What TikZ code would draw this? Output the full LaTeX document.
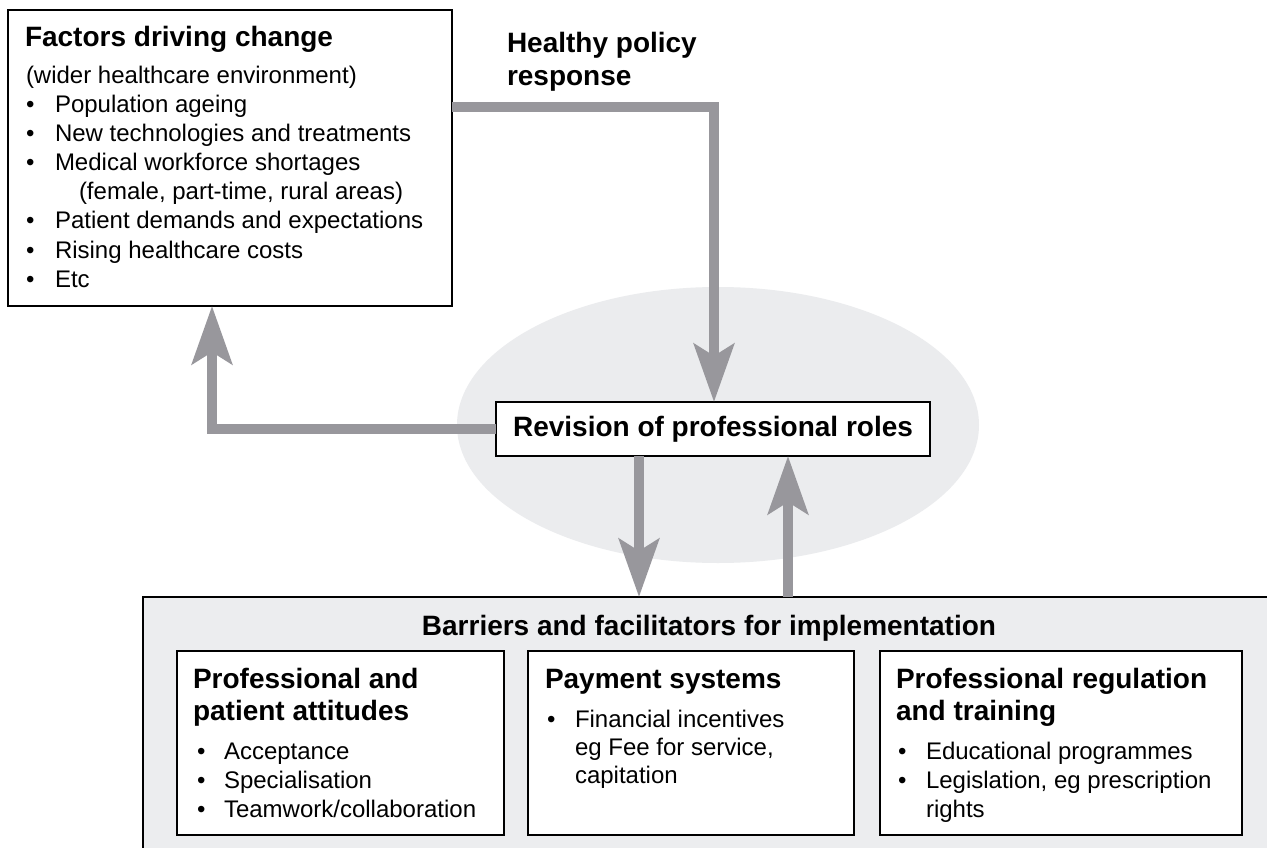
\documentclass[tikz,border=0pt]{standalone}
\usepackage{fontspec}
\setmainfont{Liberation Sans}
\usetikzlibrary{arrows.meta}

\definecolor{conngray}{RGB}{152,151,156}
\definecolor{halo}{RGB}{235,236,238}
\definecolor{panel}{RGB}{236,237,239}

\tikzset{
  box/.style={draw=black, line width=2.5pt, fill=white, inner sep=0pt, outer sep=0pt, anchor=north west},
  txt/.style={anchor=base west, inner sep=0pt, outer sep=0pt, font=\fontsize{24}{29}\selectfont},
  ttl/.style={anchor=base west, inner sep=0pt, outer sep=0pt, font=\fontsize{28}{32}\selectfont\bfseries},
  conn/.style={draw=conngray, line width=10pt},
  tip/.style={-{Stealth[length=58pt, width=40pt, inset=12pt, fill=conngray]}},
}

\begin{document}
\begin{tikzpicture}[x=1pt, y=-1pt]
\clip (0,0) rectangle (1267,848);
\fill[white] (0,0) rectangle (1267,848);

% grey halo behind the central box
\fill[halo] (718,425) ellipse [x radius=261, y radius=138];

% boxes
\node[box, minimum width=444pt, minimum height=296pt] (fdc) at (8,10) {};
\node[box, minimum width=434pt, minimum height=54pt, font=\fontsize{28}{32}\selectfont\bfseries] (rev) at (496,402) {Revision of professional roles};
\node[box, fill=panel, minimum width=1160pt, minimum height=290pt] (bar) at (143,597) {};
\node[box, minimum width=327pt, minimum height=184pt] (b1) at (177,651) {};
\node[box, minimum width=326pt, minimum height=184pt] (b2) at (528,651) {};
\node[box, minimum width=362pt, minimum height=184pt] (b3) at (880,651) {};

% factors driving change
\node[ttl] (fdcT) at (25,47) {Factors driving change};
\node[txt] (fdc0) at (26,84) {(wider healthcare environment)};
\foreach \y/\s [count=\i] in {113/Population ageing, 142/New technologies and treatments, 171/Medical workforce shortages, 229/Patient demands and expectations, 258/Rising healthcare costs, 287/Etc}{
  \node[txt] (fdcb\i) at (26,\y) {•};
  \node[txt] (fdcs\i) at (55,\y) {\s};
}
\node[txt] (fdcsub) at (79,200) {(female, part-time, rural areas)};

% policy label
\node[ttl] (hpr1) at (507,53) {Healthy policy};
\node[ttl] (hpr2) at (507,86) {response};

% barriers panel
\node[ttl, anchor=base] (barT) at (709,635) {Barriers and facilitators for implementation};

\node[ttl] (b1t1) at (193,688) {Professional and};
\node[ttl] (b1t2) at (193,720) {patient attitudes};
\foreach \y/\s [count=\i] in {759/Acceptance, 788/Specialisation, 817/Teamwork\slash collaboration}{
  \node[txt] (b1b\i) at (197,\y) {•};
  \node[txt] (b1s\i) at (224,\y) {\s};
}

\node[ttl] (b2t1) at (545,688) {Payment systems};
\node[txt] (b2b1) at (547,727) {•};
\node[txt] (b2s1) at (575,727) {Financial incentives};
\node[txt] (b2s2) at (575,755) {eg Fee for service,};
\node[txt] (b2s3) at (575,783) {capitation};

\node[ttl] (b3t1) at (896,688) {Professional regulation};
\node[ttl] (b3t2) at (896,720) {and training};
\node[txt] (b3b1) at (898,759) {•};
\node[txt] (b3s1) at (926,759) {Educational programmes};
\node[txt] (b3b2) at (898,788) {•};
\node[txt] (b3s2) at (926,788) {Legislation, eg prescription};
\node[txt] (b3s3) at (926,817) {rights};

% connectors
\coordinate (hp) at (714,107);
\coordinate (lb) at (212,428);
\coordinate (dn) at (639,0);
\coordinate (up) at (788,0);
\draw[conn, tip] (fdc.east |- hp) -- (hp) -- (rev.north -| hp);
\draw[conn, tip] (rev.west) -- (rev.west -| lb) -- (fdc.south -| lb);
\draw[conn, tip] (rev.south -| dn) -- (bar.north -| dn);
\draw[conn, tip] (bar.north -| up) -- (rev.south -| up);
\end{tikzpicture}
\end{document}
